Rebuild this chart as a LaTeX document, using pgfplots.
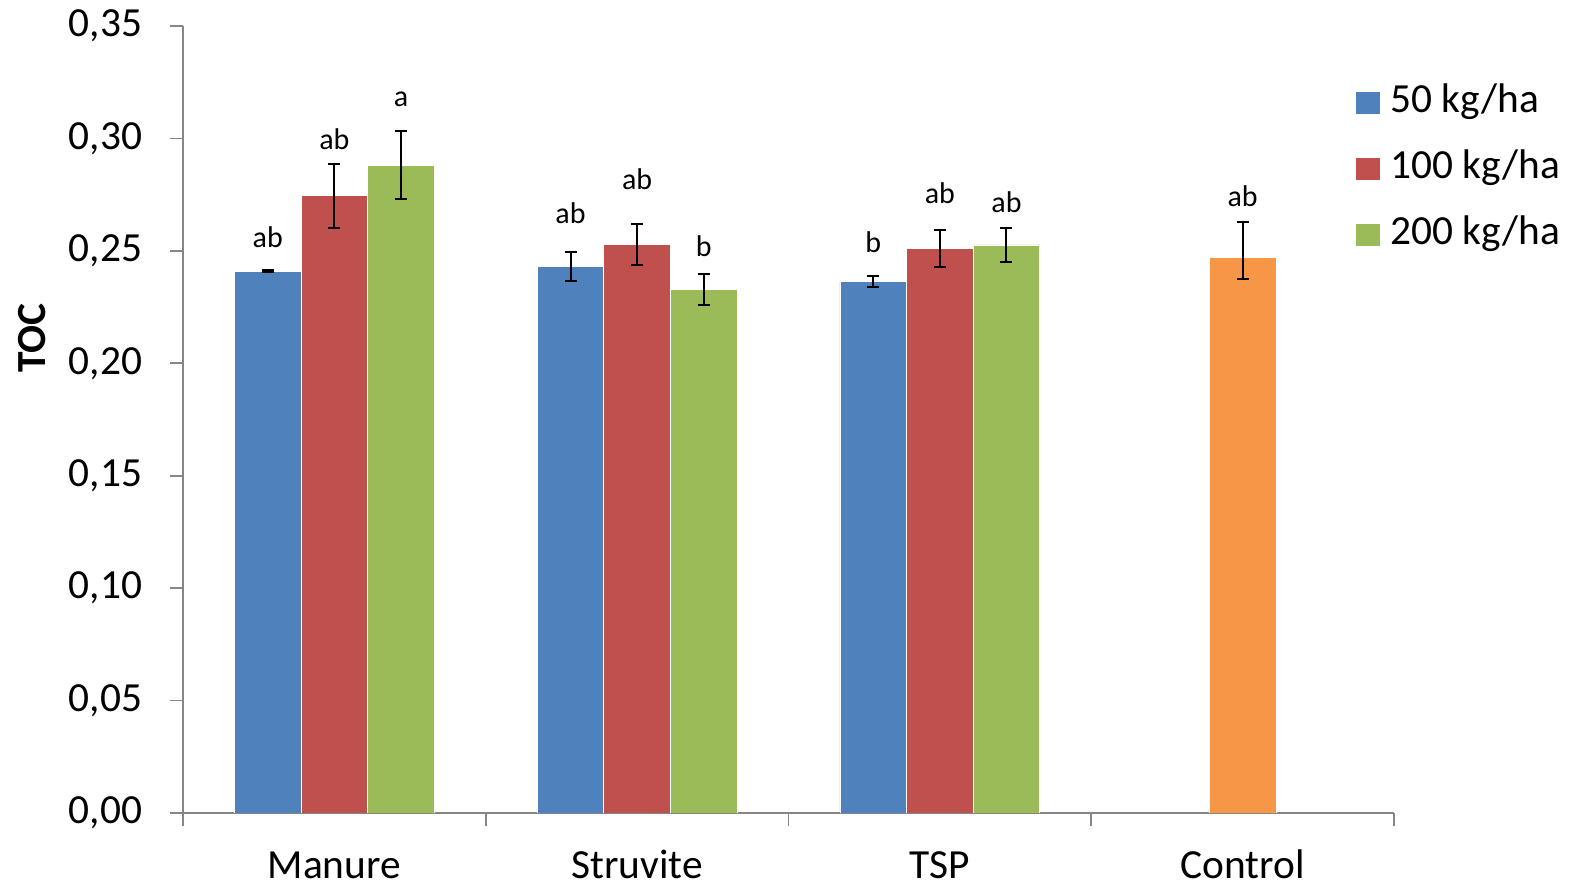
\documentclass[border=0pt]{standalone}
\usepackage{fontspec}
\setmainfont{Carlito}
\usepackage{pgfplots}
\usepackage{pgfplotstable}
\pgfplotsset{compat=1.18}
\definecolor{c50}{HTML}{4F81BD}
\definecolor{c100}{HTML}{C0504D}
\definecolor{c200}{HTML}{9BBB59}
\definecolor{cctl}{HTML}{F79646}
\definecolor{axgray}{HTML}{868686}

\pgfplotstableread{
x y e
0 0.2410 0.0005
1 0.2429 0.0064
2 0.2362 0.0024
}\tfifty
\pgfplotstableread{
x y e
0 0.2745 0.0143
1 0.2529 0.0090
2 0.2509 0.0083
}\thundred
\pgfplotstableread{
x y e
0 0.2881 0.0150
1 0.2329 0.0069
2 0.2526 0.0076
}\ttwohundred
\pgfplotstableread{
x y ep em
3 0.2472 0.0156 0.0098
}\tcontrol

\begin{document}
\begin{tikzpicture}
\begin{axis}[
  at={(91.5pt,37pt)}, anchor=south west,
  scale only axis, width=605.5pt, height=393.5pt,
  xmin=-0.5, xmax=3.5, ymin=0, ymax=0.35,
  ybar, bar width=0.22,
  axis x line=bottom, axis y line=left,
  axis line style={-, draw=axgray, line width=0.9pt},
  tick align=outside,
  major tick length=6.7pt,
  tick style={draw=axgray, line width=0.9pt},
  xtick={-0.5,0.5,1.5,2.5,3.5}, xticklabels={},
  extra x ticks={0,1,2,3},
  extra x tick labels={Manure,Struvite,TSP,Control},
  extra x tick style={major tick length=0pt,
     xticklabel style={anchor=base, yshift=-33pt, inner sep=0pt,
        font=\fontsize{20.7}{24}\selectfont}},
  ytick={0,0.05,0.1,0.15,0.2,0.25,0.3,0.35},
  yticklabel style={anchor=east, inner sep=0pt, xshift=-13.5pt,
     font=\fontsize{20.7}{24}\selectfont},
  /pgf/number format/.cd, fixed, fixed zerofill, precision=2, use comma,
     assume math mode=true, /pgfplots/.cd,
  ylabel={TOC},
  ylabel style={at={(axis description cs:-0.1244,0.6036)}, anchor=center,
     font=\fontsize{20.7}{24}\selectfont\bfseries},
  legend style={at={(axis description cs:0.9686,0.9267)}, anchor=north west,
     draw=none, fill=none, inner sep=0pt, row sep=14pt, column sep=5pt,
     font=\fontsize{20.7}{24}\selectfont,
     nodes={inner sep=0pt, text height=14pt, text depth=5pt}},
  legend cell align=left,
  legend image code/.code={\fill[#1, draw=none] (0pt,-5.5pt) rectangle (12pt,5.5pt);},
  error bars/error bar style={black, line width=1pt},
  error bars/error mark options={black, rotate=90, mark size=3pt, line width=1pt},
]
\addlegendimage{fill=c50, draw=none}
\addlegendentry{50 kg/ha}
\addlegendimage{fill=c100, draw=none}
\addlegendentry{100 kg/ha}
\addlegendimage{fill=c200, draw=none}
\addlegendentry{200 kg/ha}

\addplot[fill=c50, draw=white, line width=0.4pt, bar shift=-0.22, forget plot,
  error bars/.cd, y dir=both, y explicit]
  table[x=x, y=y, y error=e] {\tfifty};
\addplot[fill=c100, draw=white, line width=0.4pt, bar shift=0, forget plot,
  error bars/.cd, y dir=both, y explicit]
  table[x=x, y=y, y error=e] {\thundred};
\addplot[fill=c200, draw=white, line width=0.4pt, bar shift=0.22, forget plot,
  error bars/.cd, y dir=both, y explicit]
  table[x=x, y=y, y error=e] {\ttwohundred};
\addplot[fill=cctl, draw=white, line width=0.4pt, bar shift=0, forget plot,
  error bars/.cd, y dir=both, y explicit]
  table[x=x, y=y, y error plus=ep, y error minus=em] {\tcontrol};

\begin{scope}[every node/.style={anchor=base, inner sep=0pt, font=\fontsize{15}{18}\selectfont}]
\node at (axis cs:-0.22,0.2517) {ab};
\node at (axis cs:0,0.2952) {ab};
\node at (axis cs:0.22,0.3144) {a};
\node at (axis cs:0.78,0.2622) {ab};
\node at (axis cs:1,0.2773) {ab};
\node at (axis cs:1.22,0.2477) {b};
\node at (axis cs:1.78,0.2493) {b};
\node at (axis cs:2,0.2711) {ab};
\node at (axis cs:2.22,0.2671) {ab};
\node at (axis cs:3,0.2696) {ab};
\end{scope}
\end{axis}
\pgfresetboundingbox
\path[use as bounding box] (0,0) rectangle (789pt,443.5pt);
\end{tikzpicture}
\end{document}
